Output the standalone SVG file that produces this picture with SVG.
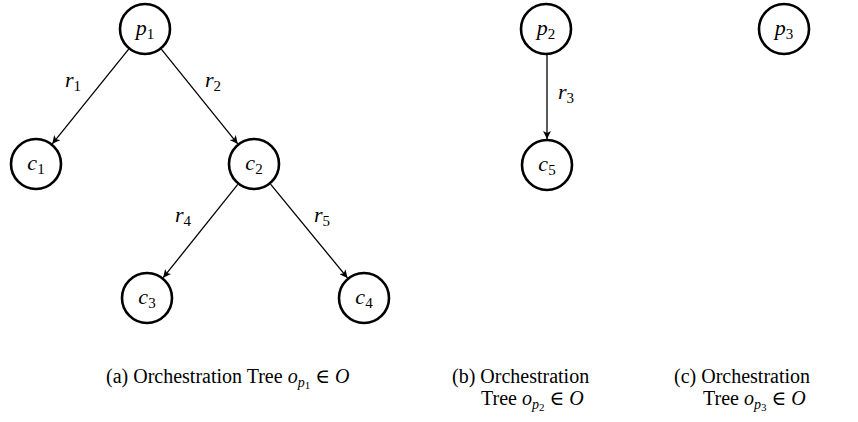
<svg xmlns="http://www.w3.org/2000/svg" width="858" height="422" viewBox="0 0 858 422">
<style>
.node circle{fill:#fff;stroke:#000;stroke-width:2.6}
.lbl{font-family:"Liberation Serif","DejaVu Serif",serif;font-size:22px;text-anchor:middle;fill:#000}
.it{font-style:italic}
.sub{font-size:15px;font-style:normal}
.edge{stroke:#000;stroke-width:1.3;fill:none;marker-end:url(#ah)}
.cap{font-family:"Liberation Serif","DejaVu Serif",serif;font-size:20px;fill:#000}
</style>
<defs>
<marker id="ah" viewBox="0 0 10 10" refX="10" refY="5" markerWidth="8" markerHeight="8" markerUnits="userSpaceOnUse" orient="auto">
<path d="M0,0 L10,5 L0,10 L2.5,5 Z" fill="#000"/>
</marker>
</defs>
<g id="connectors">
<line class="edge" x1="128.7" y1="49.2" x2="52.3" y2="143.8"/>
<line class="edge" x1="161.3" y1="49.2" x2="237.7" y2="143.8"/>
<line class="edge" x1="237.8" y1="184.3" x2="163.2" y2="277.7"/>
<line class="edge" x1="270.5" y1="184.1" x2="347.5" y2="277.9"/>
<line class="edge" x1="547" y1="55" x2="547" y2="139"/>
<text class="lbl it" x="73" y="87">r<tspan class="sub" dy="4">1</tspan></text>
<text class="lbl it" x="213" y="87">r<tspan class="sub" dy="4">2</tspan></text>
<text class="lbl it" x="183" y="222">r<tspan class="sub" dy="4">4</tspan></text>
<text class="lbl it" x="322" y="222">r<tspan class="sub" dy="4">5</tspan></text>
<text class="lbl it" x="566" y="99">r<tspan class="sub" dy="4">3</tspan></text>
</g>
<g id="p1" class="node"><circle cx="145" cy="29" r="25"/><text class="lbl it" x="145" y="35">p<tspan class="sub" dy="4">1</tspan></text></g>
<g id="c1" class="node"><circle cx="36" cy="164" r="25"/><text class="lbl it" x="36" y="170">c<tspan class="sub" dy="4">1</tspan></text></g>
<g id="c2" class="node"><circle cx="254" cy="164" r="25"/><text class="lbl it" x="254" y="170">c<tspan class="sub" dy="4">2</tspan></text></g>
<g id="c3" class="node"><circle cx="147" cy="298" r="25"/><text class="lbl it" x="147" y="304">c<tspan class="sub" dy="4">3</tspan></text></g>
<g id="c4" class="node"><circle cx="364" cy="298" r="25"/><text class="lbl it" x="364" y="304">c<tspan class="sub" dy="4">4</tspan></text></g>
<g id="p2" class="node"><circle cx="546" cy="29" r="25"/><text class="lbl it" x="546" y="35">p<tspan class="sub" dy="4">2</tspan></text></g>
<g id="c5" class="node"><circle cx="547" cy="165" r="25"/><text class="lbl it" x="547" y="171">c<tspan class="sub" dy="4">5</tspan></text></g>
<g id="p3" class="node"><circle cx="784" cy="29" r="25"/><text class="lbl it" x="784" y="35">p<tspan class="sub" dy="4">3</tspan></text></g>
<g id="captions">
<text class="cap" x="106" y="383">(a) Orchestration Tree <tspan font-style="italic">o</tspan><tspan font-style="italic" font-size="14" dy="4">p</tspan><tspan font-size="11" dy="2">1</tspan><tspan dy="-6"> ∈ </tspan><tspan font-style="italic">O</tspan></text>
<text class="cap" x="452" y="383">(b) Orchestration</text>
<text class="cap" x="481" y="405">Tree <tspan font-style="italic">o</tspan><tspan font-style="italic" font-size="14" dy="4">p</tspan><tspan font-size="11" dy="2">2</tspan><tspan dy="-6"> ∈ </tspan><tspan font-style="italic">O</tspan></text>
<text class="cap" x="674" y="383">(c) Orchestration</text>
<text class="cap" x="703" y="405">Tree <tspan font-style="italic">o</tspan><tspan font-style="italic" font-size="14" dy="4">p</tspan><tspan font-size="11" dy="2">3</tspan><tspan dy="-6"> ∈ </tspan><tspan font-style="italic">O</tspan></text>
</g>
</svg>
